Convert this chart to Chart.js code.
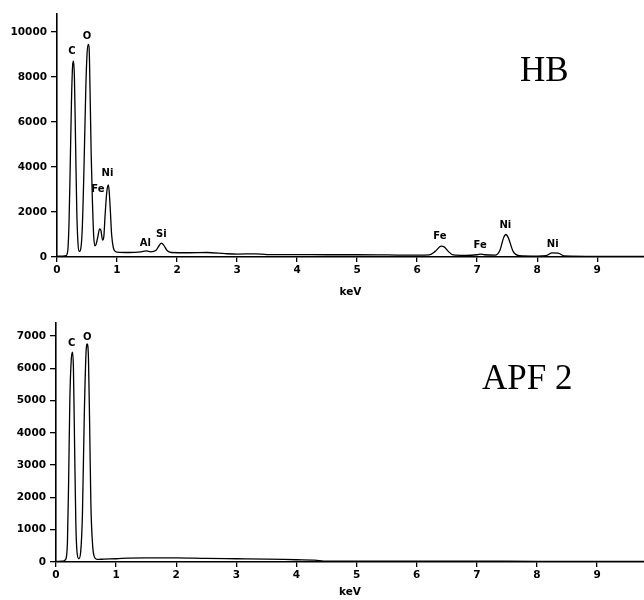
<!DOCTYPE html>
<html>
<head>
<meta charset="utf-8">
<script src="https://cdn.jsdelivr.net/npm/chart.js@4/dist/chart.umd.min.js"></script>
<style>
  html, body { margin: 0; padding: 0; background: #fff; }
  #wrap { position: relative; width: 644px; height: 600px; }
  .pane { position: absolute; left: 0; width: 644px; height: 300px; }
</style>
</head>
<body>
<div id="wrap">
  <div class="pane" style="top:0"><canvas id="hb-chart" width="644" height="300"></canvas></div>
  <div class="pane" style="top:300px"><canvas id="apf-chart" width="644" height="300"></canvas></div>
</div>
<script>
// ---- EDS spectra, energy (keV) vs counts ----

// sample HB
const HB_KEV = [0.00, 0.10, 0.15, 0.18, 0.20, 0.22, 0.24, 0.26, 0.275, 0.29, 0.31, 0.33, 0.35, 0.37,
                0.39, 0.42, 0.45, 0.48, 0.50, 0.52, 0.535, 0.55, 0.57, 0.59, 0.61, 0.63, 0.65, 0.68,
                0.71, 0.73, 0.76, 0.78, 0.80, 0.83, 0.855, 0.87, 0.89, 0.91, 0.94, 0.97, 1.00, 1.20,
                1.40, 1.49, 1.56, 1.65, 1.70, 1.74, 1.78, 1.83, 1.90, 2.20, 2.50, 2.80, 3.00, 3.30,
                3.50, 4.00, 4.50, 5.00, 5.50, 6.00, 6.20, 6.30, 6.40, 6.45, 6.52, 6.60, 6.80, 7.00,
                7.06, 7.12, 7.30, 7.38, 7.44, 7.48, 7.52, 7.60, 7.70, 8.00, 8.15, 8.25, 8.35, 8.45,
                9.00, 9.78];
const HB_COUNTS = [30, 40, 60, 300, 1500, 4000, 6800, 8500, 8700, 8000, 5000, 2000, 600, 250,
                   300, 1200, 4000, 7500, 9000, 9450, 9300, 7500, 4500, 2500, 1000, 500, 550, 900,
                   1250, 1200, 750, 900, 1800, 2900, 3200, 2900, 2000, 1000, 400, 250, 220, 200,
                   230, 270, 230, 300, 500, 620, 520, 300, 200, 190, 200, 150, 130, 140,
                   110, 110, 100, 100, 90, 80, 90, 250, 480, 450, 250, 90, 70, 100,
                   130, 100, 80, 300, 850, 1000, 850, 250, 60, 40, 60, 180, 170, 50,
                   30, 25];
const HB_PEAK_TEXT   = ['C', 'O', 'Fe', 'Ni', 'Al', 'Si', 'Fe', 'Fe', 'Ni', 'Ni'];
const HB_PEAK_KEV    = [0.25, 0.50, 0.68, 0.84, 1.47, 1.74, 6.38, 7.05, 7.47, 8.26];
const HB_PEAK_COUNTS = [8900, 9580, 2770, 3480, 400, 800, 690, 280, 1180, 320];
const HB_Y_TICKS = [0, 2000, 4000, 6000, 8000, 10000];
const HB_Y_MAX = 10800;

// sample APF 2
const APF_KEV = [0.00, 0.12, 0.16, 0.19, 0.21, 0.23, 0.255, 0.275, 0.29, 0.31, 0.33, 0.35, 0.38,
                 0.41, 0.44, 0.47, 0.50, 0.52, 0.54, 0.56, 0.58, 0.61, 0.64, 0.68, 0.80, 1.00,
                 1.20, 1.50, 2.00, 2.50, 3.00, 3.50, 4.00, 4.30, 4.50, 5.00, 6.00, 7.00, 8.00,
                 9.00, 9.78];
const APF_COUNTS = [20, 30, 80, 600, 2500, 5000, 6300, 6500, 6000, 3500, 1200, 300, 100,
                    300, 1500, 4500, 6500, 6750, 6300, 4200, 1800, 500, 150, 80, 90, 100,
                    120, 130, 130, 110, 100, 90, 70, 60, 30, 30, 25, 25, 20,
                    20, 15];
const APF_PEAK_TEXT   = ['C', 'O'];
const APF_PEAK_KEV    = [0.26, 0.52];
const APF_PEAK_COUNTS = [6600, 6810];
const APF_Y_TICKS = [0, 1000, 2000, 3000, 4000, 5000, 6000, 7000];
const APF_Y_MAX = 7400;

const X_TICKS = [0, 1, 2, 3, 4, 5, 6, 7, 8, 9];
const X_MAX = 9.78;
const TICK_FONT = { family: 'DejaVu Sans', size: 10.5, weight: 'bold' };

// peak labels + sample name
const peakLabelPlugin = {
  id: 'peakLabels',
  afterDatasetsDraw(chart, args, opts) {
    const { ctx, scales: { x, y } } = chart;
    ctx.save();
    ctx.fillStyle = '#000';
    ctx.font = 'bold 10px "DejaVu Sans"';
    ctx.textAlign = 'center';
    ctx.textBaseline = 'bottom';
    opts.text.forEach((t, i) => {
      ctx.fillText(t, x.getPixelForValue(opts.kev[i]), y.getPixelForValue(opts.counts[i]));
    });
    ctx.font = '35px "Liberation Serif"';
    ctx.textAlign = 'left';
    ctx.textBaseline = 'alphabetic';
    ctx.fillText(opts.name, opts.nameX, opts.nameY);
    ctx.restore();
  }
};

function makeSpectrum(canvasId, kev, counts, yMax, yTicks, labels, axisLeft, axisTop, axisBottom, titlePad) {
  const pts = kev.map((k, i) => ({ x: k, y: counts[i] }));
  return new Chart(document.getElementById(canvasId).getContext('2d'), {
    type: 'line',
    data: {
      datasets: [{
        data: pts,
        borderColor: '#000',
        borderWidth: 1.3,
        pointRadius: 0,
        cubicInterpolationMode: 'monotone',
        fill: false
      }]
    },
    options: {
      responsive: false,
      animation: false,
      layout: { padding: { top: axisTop, left: 0, right: 0, bottom: 0 } },
      plugins: {
        legend: { display: false },
        tooltip: { enabled: false },
        peakLabels: labels
      },
      scales: {
        x: {
          type: 'linear',
          min: 0,
          max: X_MAX,
          border: { display: true, color: '#000', width: 1.6 },
          grid: { drawOnChartArea: false, drawTicks: true, tickLength: 5, color: '#000', lineWidth: 1.3 },
          ticks: { color: '#000', font: TICK_FONT, padding: 2, maxRotation: 0, autoSkip: false, callback: v => String(v) },
          afterBuildTicks: s => { s.ticks = X_TICKS.map(v => ({ value: v })); },
          title: { display: true, text: 'keV', color: '#000', font: TICK_FONT, padding: { top: 0, bottom: titlePad } },
          afterFit: s => { s.height = 300 - axisBottom; }
        },
        y: {
          min: 0,
          max: yMax,
          border: { display: true, color: '#000', width: 1.6 },
          grid: { drawOnChartArea: false, drawTicks: true, tickLength: 6, color: '#000', lineWidth: 1.3 },
          ticks: { color: '#000', font: TICK_FONT, padding: 4, autoSkip: false, callback: v => String(v) },
          afterBuildTicks: s => { s.ticks = yTicks.map(v => ({ value: v })); },
          afterFit: s => { s.width = axisLeft; }
        }
      }
    },
    plugins: [peakLabelPlugin]
  });
}

makeSpectrum('hb-chart', HB_KEV, HB_COUNTS, HB_Y_MAX, HB_Y_TICKS,
  { text: HB_PEAK_TEXT, kev: HB_PEAK_KEV, counts: HB_PEAK_COUNTS, name: 'HB', nameX: 520, nameY: 81 },
  57, 14, 257, 1);

makeSpectrum('apf-chart', APF_KEV, APF_COUNTS, APF_Y_MAX, APF_Y_TICKS,
  { text: APF_PEAK_TEXT, kev: APF_PEAK_KEV, counts: APF_PEAK_COUNTS, name: 'APF 2', nameX: 482, nameY: 89 },
  56, 23, 262, 1);
</script>
</body>
</html>
